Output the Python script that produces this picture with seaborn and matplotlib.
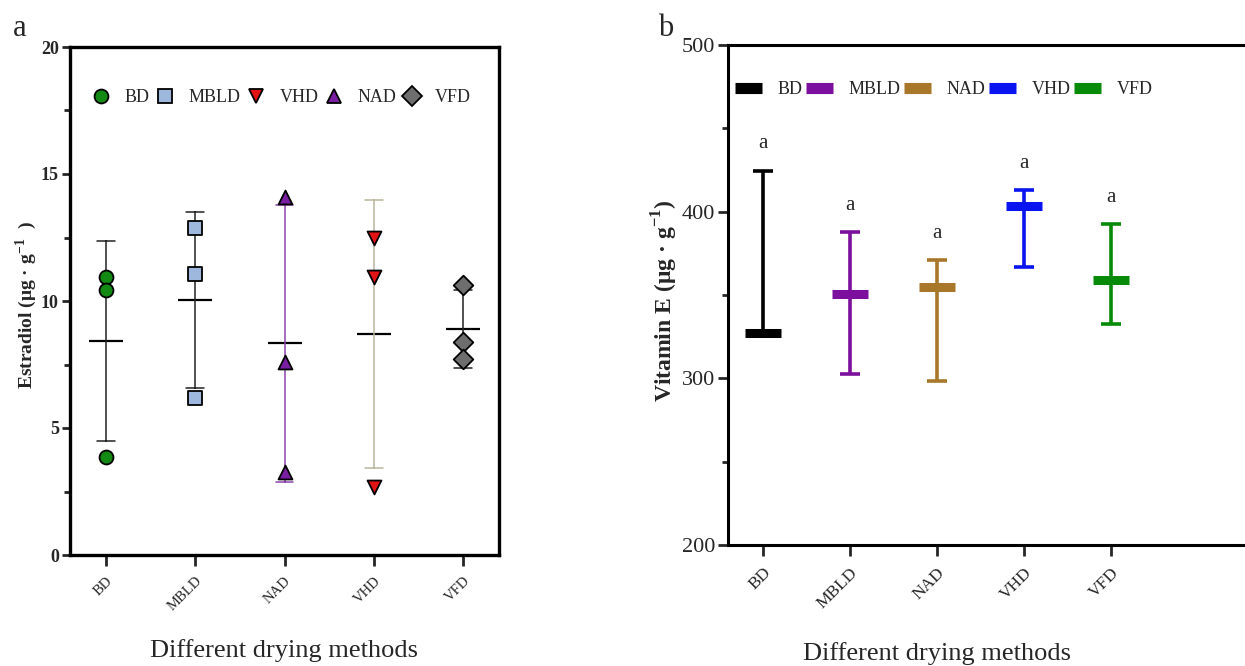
import numpy as np
import pandas as pd
import matplotlib
matplotlib.use("Agg")
import matplotlib.pyplot as plt
import matplotlib.transforms as mtransforms
from matplotlib.lines import Line2D
from matplotlib.ticker import MultipleLocator
import seaborn as sns

# Panel a: individual estradiol readings per drying method
methods = ["BD", "MBLD", "NAD", "VHD", "VFD"]
bd_vals = [10.94, 10.43, 3.87]
mbld_vals = [12.86, 11.06, 6.17]
nad_vals = [14.10, 7.61, 3.28]
vhd_vals = [12.50, 10.96, 2.69]
vfd_vals = [10.63, 8.40, 7.70]
legend_order_a = ["BD", "MBLD", "VHD", "NAD", "VFD"]

# Panel b: vitamin E summary (mean, lower end, upper end)
vite_mean = [327.5, 350.6, 354.6, 403.4, 359.0]
vite_low = [327.5, 302.6, 298.6, 366.6, 332.6]
vite_high = [424.6, 387.6, 371.0, 413.0, 392.6]
sig_letters = ["a", "a", "a", "a", "a"]

point_colors = {"BD": "#138a13", "MBLD": "#9db8dc", "NAD": "#7b1fa2",
                "VHD": "#e31414", "VFD": "#6e6e6e"}
point_markers = {"BD": "o", "MBLD": "s", "NAD": "^", "VHD": "v", "VFD": "D"}
err_colors = {"BD": "#222222", "MBLD": "#222222", "NAD": "#8e44ad",
              "VHD": "#b9b59e", "VFD": "#222222"}
bar_colors = {"BD": "#000000", "MBLD": "#7d0f9e", "NAD": "#a8772a",
              "VHD": "#0a14f0", "VFD": "#078a07"}

sns.set_theme(style="ticks")
plt.rcParams["font.family"] = ["Liberation Serif", "DejaVu Serif"]
plt.rcParams["mathtext.fontset"] = "custom"
plt.rcParams["mathtext.rm"] = "Liberation Serif"
plt.rcParams["mathtext.bf"] = "Liberation Serif:bold"

df_a = pd.DataFrame({
    "method": np.repeat(methods, 3),
    "value": bd_vals + mbld_vals + nad_vals + vhd_vals + vfd_vals,
})

fig = plt.figure(figsize=(12.45, 6.66), dpi=100)
ax_a = fig.add_axes([70 / 1245, 111 / 666, 429 / 1245, 508 / 666])
ax_b = fig.add_axes([728 / 1245, 121 / 666, 557 / 1245, 500 / 666])

# ---- panel a ----
sns.pointplot(data=df_a, x="method", y="value", hue="method", order=methods,
              palette=err_colors, errorbar="sd", capsize=0.2,
              linestyle="none", marker="_", markersize=25,
              markeredgewidth=1.6, markeredgecolor="black",
              err_kws={"linewidth": 1.1}, legend=False, ax=ax_a)
for m in legend_order_a:
    sns.stripplot(data=df_a[df_a["method"] == m], x="method", y="value",
                  order=methods, jitter=False, marker=point_markers[m],
                  color=point_colors[m], edgecolor="black", linewidth=1.3,
                  size=10, zorder=5, ax=ax_a)

ax_a.set_xlim(-0.4, 4.4)
ax_a.set_ylim(0, 20)
ax_a.yaxis.set_major_locator(MultipleLocator(5))
ax_a.yaxis.set_minor_locator(MultipleLocator(2.5))
for s in ax_a.spines.values():
    s.set_linewidth(2.4)
    s.set_color("black")
ax_a.tick_params(axis="y", which="major", length=6, width=2, labelsize=13, pad=2)
ax_a.tick_params(axis="y", which="minor", length=4, width=2)
ax_a.tick_params(axis="x", length=8, width=2, labelsize=10.5, pad=6)
for lbl in ax_a.get_yticklabels():
    lbl.set_fontweight("bold")
plt.setp(ax_a.get_xticklabels(), rotation=45, ha="right", rotation_mode="anchor")
ax_a.set_ylabel(r"Estradiol (μg · g$^{\mathbf{-1}}$  )", fontsize=14,
                fontweight="bold")
ax_a.yaxis.set_label_coords(-0.072, 0.492)
ax_a.set_xlabel("Different drying methods", fontsize=19)
tr_a = mtransforms.blended_transform_factory(ax_a.transData, ax_a.transAxes)
ax_a.xaxis.set_label_coords(2, -0.165, transform=tr_a)

handles_a = [Line2D([], [], linestyle="none", marker=point_markers[m],
                    markerfacecolor=point_colors[m], markeredgecolor="black",
                    markeredgewidth=1.3, markersize=10) for m in legend_order_a]
ax_a.legend(handles_a, legend_order_a, ncol=5, frameon=False, fontsize=13,
            loc="center left", bbox_to_anchor=(0.01, 0.9),
            handletextpad=0.7, columnspacing=0.25, handlelength=1.2)
fig.text(13 / 1245, 1 - 29 / 666, "a", fontsize=22, va="center", ha="left")

# ---- panel b ----
xs = np.arange(len(methods))
df_b = pd.DataFrame({"method": methods, "mean": vite_mean})
for i, m in enumerate(methods):
    ax_b.errorbar(xs[i], vite_mean[i],
                  yerr=[[vite_mean[i] - vite_low[i]], [vite_high[i] - vite_mean[i]]],
                  fmt="none", ecolor=bar_colors[m], elinewidth=2.6,
                  capsize=7, capthick=2.6, zorder=2)
sns.pointplot(data=df_b, x="method", y="mean", hue="method", order=methods,
              palette=bar_colors, errorbar=None, linestyle="none", marker="_",
              markersize=26, markeredgewidth=6.5, legend=False, ax=ax_b)
for i in range(len(methods)):
    ax_b.text(xs[i], vite_high[i] + 16, sig_letters[i], fontsize=15,
              ha="center", va="center")

ax_b.set_xlim(-0.4, 6.0)
ax_b.set_ylim(200, 500)
ax_b.yaxis.set_major_locator(MultipleLocator(100))
ax_b.yaxis.set_minor_locator(MultipleLocator(50))
ax_b.set_xticks(xs)
ax_b.set_xticklabels(methods)
for s in ax_b.spines.values():
    s.set_linewidth(2.2)
    s.set_color("black")
ax_b.tick_params(axis="y", which="major", length=7, width=2, labelsize=16, pad=2)
ax_b.tick_params(axis="y", which="minor", length=4, width=2)
ax_b.tick_params(axis="x", length=8, width=2, labelsize=12.5, pad=6)
plt.setp(ax_b.get_xticklabels(), rotation=45, ha="right", rotation_mode="anchor")
ax_b.set_ylabel(r"Vitamin E (μg · g$^{\mathbf{-1}}$)", fontsize=17,
                fontweight="bold")
ax_b.yaxis.set_label_coords(-0.087, 0.488)
ax_b.set_xlabel("Different drying methods", fontsize=19)
tr_b = mtransforms.blended_transform_factory(ax_b.transData, ax_b.transAxes)
ax_b.xaxis.set_label_coords(2, -0.195, transform=tr_b)

handles_b = [Line2D([], [], color=bar_colors[m], linewidth=8,
                    solid_capstyle="butt") for m in methods]
ax_b.legend(handles_b, methods, ncol=5, frameon=False, fontsize=13,
            loc="center left", bbox_to_anchor=(-0.016, 0.91),
            handletextpad=0.9, columnspacing=0.2, handlelength=1.45)
fig.text(666 / 1245, 1 - 28 / 666, "b", fontsize=22, va="center", ha="center")

fig.savefig("out.png", dpi=100)
